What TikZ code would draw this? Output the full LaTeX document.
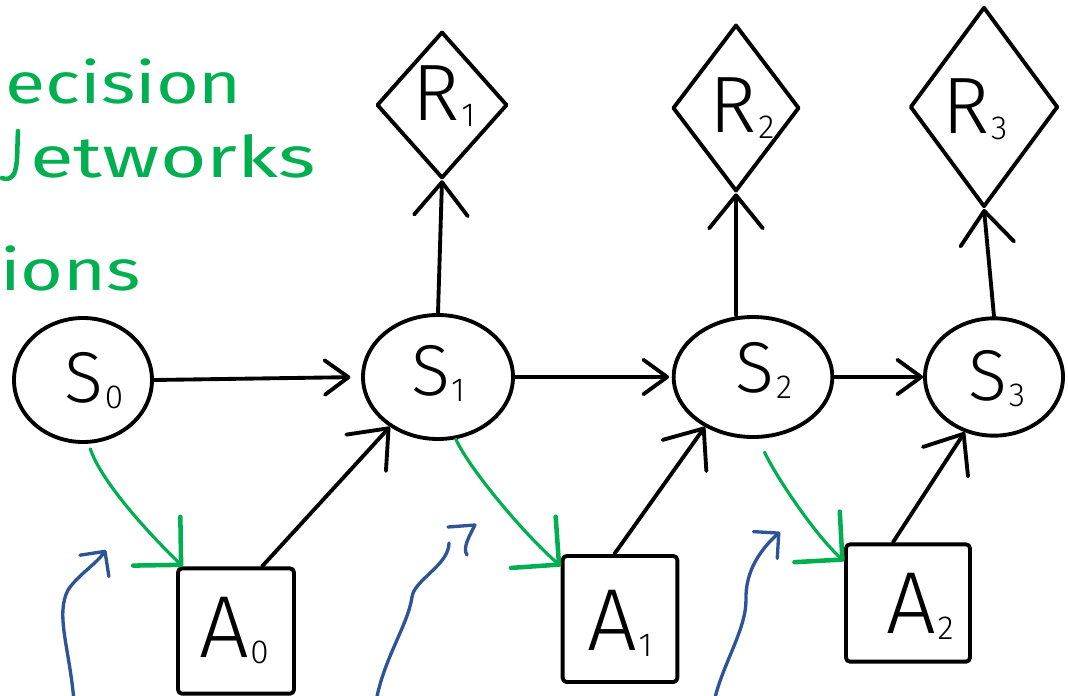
\documentclass[tikz,border=0pt]{standalone}
\usepackage{fontspec}
\setmainfont{Fira Sans}
\newfontfamily\labelfont{Fira Sans Light}
\newfontfamily\notefont{Fira Sans}[FakeStretch=1.28]
\usetikzlibrary{arrows.meta,shapes.geometric}
\definecolor{inkgreen}{RGB}{0,176,80}
\definecolor{inkblue}{RGB}{44,84,150}
% a letter with a lowered index
\newcommand{\sym}[3]{\fontsize{#1}{#1}\selectfont #2\kern1pt\raisebox{-4.5pt}{\fontsize{25}{25}\selectfont #3}}
\tikzset{
  ink/.style={line width=2.9pt, line cap=round, line join=round, draw=black},
  gink/.style={line width=2.4pt, line cap=round, line join=round, draw=inkgreen},
  bink/.style={line width=2.5pt, line cap=round, line join=round, draw=inkblue},
  statenode/.style={ink, ellipse, inner sep=0pt},
  rewardnode/.style={ink, diamond, inner sep=0pt},
  actionnode/.style={ink, rectangle, rounded corners=3pt, inner sep=0pt},
  lab/.style={font=\labelfont, inner sep=0pt, anchor=base},
  note/.style={font=\notefont\fontsize{43}{43}\selectfont, text=inkgreen, inner sep=0pt, anchor=base west},
  hbarb/.tip={Straight Barb[angle=72:22pt, round]},
  vbarb/.tip={Straight Barb[angle=78:32pt, round]},
  gbarb/.tip={Straight Barb[angle=90:36pt, round, line width=3.4pt]},
  bbarb/.tip={Straight Barb[angle=90:19pt, round]},
}
\begin{document}
\begin{tikzpicture}[x=0.75pt,y=-0.75pt]
\useasboundingbox (0,0) rectangle (1068,696);
\fill[white] (0,0) rectangle (1068,696);
\clip (0,0) rectangle (1068,696);

% notes at the left edge
\node[note] (n1) at (5,103) {ecision};
\node[note] (n2) at (30,177) {\scalebox{1.09}[1]{etworks}};
\draw[gink, line width=3.4pt] (18,131) .. controls (17,150) and (18,165) .. (14,174) .. controls (11,179) and (6,180) .. (2,178);
\node[note] (n3) at (0,290) {ions};

% states
\node[statenode, minimum width=103.5pt, minimum height=93pt] (S0) at (83,380) {};
\node[statenode, minimum width=112.5pt, minimum height=93pt] (S1) at (438,377) {};
\node[statenode, minimum width=119pt, minimum height=90pt] (S2) at (753,377) {};
\node[statenode, minimum width=103.5pt, minimum height=88pt] (S3) at (994,377) {};

% rewards
\node[rewardnode, minimum width=98pt, minimum height=110pt] (R1) at (442,105) {};
\node[rewardnode, minimum width=95pt, minimum height=125pt] (R2) at (736,108) {};
\node[rewardnode, minimum width=111pt, minimum height=150pt] (R3) at (984,107) {};

% actions
\node[actionnode, minimum width=87pt, minimum height=94pt] (A0) at (236,631) {};
\node[actionnode, minimum width=86pt, minimum height=94.5pt] (A1) at (620,619) {};
\node[actionnode, minimum width=93pt, minimum height=88pt] (A2) at (908,603) {};

% labels
\node[lab] (S0t) at (94,402) {\sym{54}{S}{0}};
\node[lab] (S1t) at (438,395) {\sym{54}{S}{1}};
\node[lab] (S2t) at (764,392) {\sym{54}{S}{2}};
\node[lab] (S3t) at (997,400) {\sym{54}{S}{3}};
\node[lab] (R1t) at (444,120) {\sym{60}{R}{1}};
\node[lab] (R2t) at (742,132) {\sym{60}{R}{2}};
\node[lab] (R3t) at (975,133) {\sym{60}{R}{3}};
\node[lab] (A0t) at (234,657) {\sym{66}{A}{0}};
\node[lab] (A1t) at (620,650) {\sym{66}{A}{1}};
\node[lab] (A2t) at (920,633) {\sym{66}{A}{2}};

% transitions between states
\draw[ink, -{hbarb}, shorten >=8pt] (S0.east) -- (S1.west);
\draw[ink, -{hbarb}, shorten >=2pt] (S1.east) -- (S2.west);
\draw[ink, -{hbarb}] (S2.east) -- (S3.west);

% rewards from states
\draw[ink, -{vbarb}] (S1.north) -- (R1.south);
\draw[ink, -{vbarb}] (R2.south |- S2.north) -- (R2.south);
\draw[ink, -{vbarb}] (S3.north) -- (R3.south);

% actions into next states
\draw[ink, -{vbarb}] (A0.68) -- (S1.226);
\draw[ink, -{vbarb}] (A1.95) -- (S2.226);
\draw[ink, -{vbarb}] (A2.104) -- (S3.242);

% policy: state to action
\draw[gink, -{gbarb}, shorten <=4pt] (S0.275) .. controls (100,478) and (140,525) .. ([xshift=5pt]A0.north west);
\draw[gink, -{gbarb}] (S1.286) .. controls (470,470) and (525,535) .. ([yshift=-9pt]A1.north west);
\draw[gink, -{gbarb}, shorten <=11pt] (S2.275) .. controls (775,475) and (815,535) .. ([yshift=-14pt]A2.north west);

% incoming decision strokes
\coordinate (b0s) at (74,702);
\coordinate (b0e) at (106,550);
\coordinate (b1s) at (376,702);
\coordinate (b1e) at (449,543);
\coordinate (b2s) at (714,702);
\coordinate (b2e) at (780,532);
\draw[bink, -{bbarb}] (b0s) .. controls (70,650) and (55,615) .. (68,590) .. controls (78,575) and (95,565) .. (b0e);
\draw[bink] (b1s) .. controls (383,660) and (408,625) .. (412,597) .. controls (414,580) and (449,565) .. (b1e);
\draw[bink] (448,527) -- (475,525) .. controls (470,535) and (462,548) .. (467,555);
\draw[bink, -{bbarb}] (b2s) .. controls (722,665) and (746,630) .. (746,600) .. controls (745,570) and (762,548) .. (b2e);
\end{tikzpicture}
\end{document}
